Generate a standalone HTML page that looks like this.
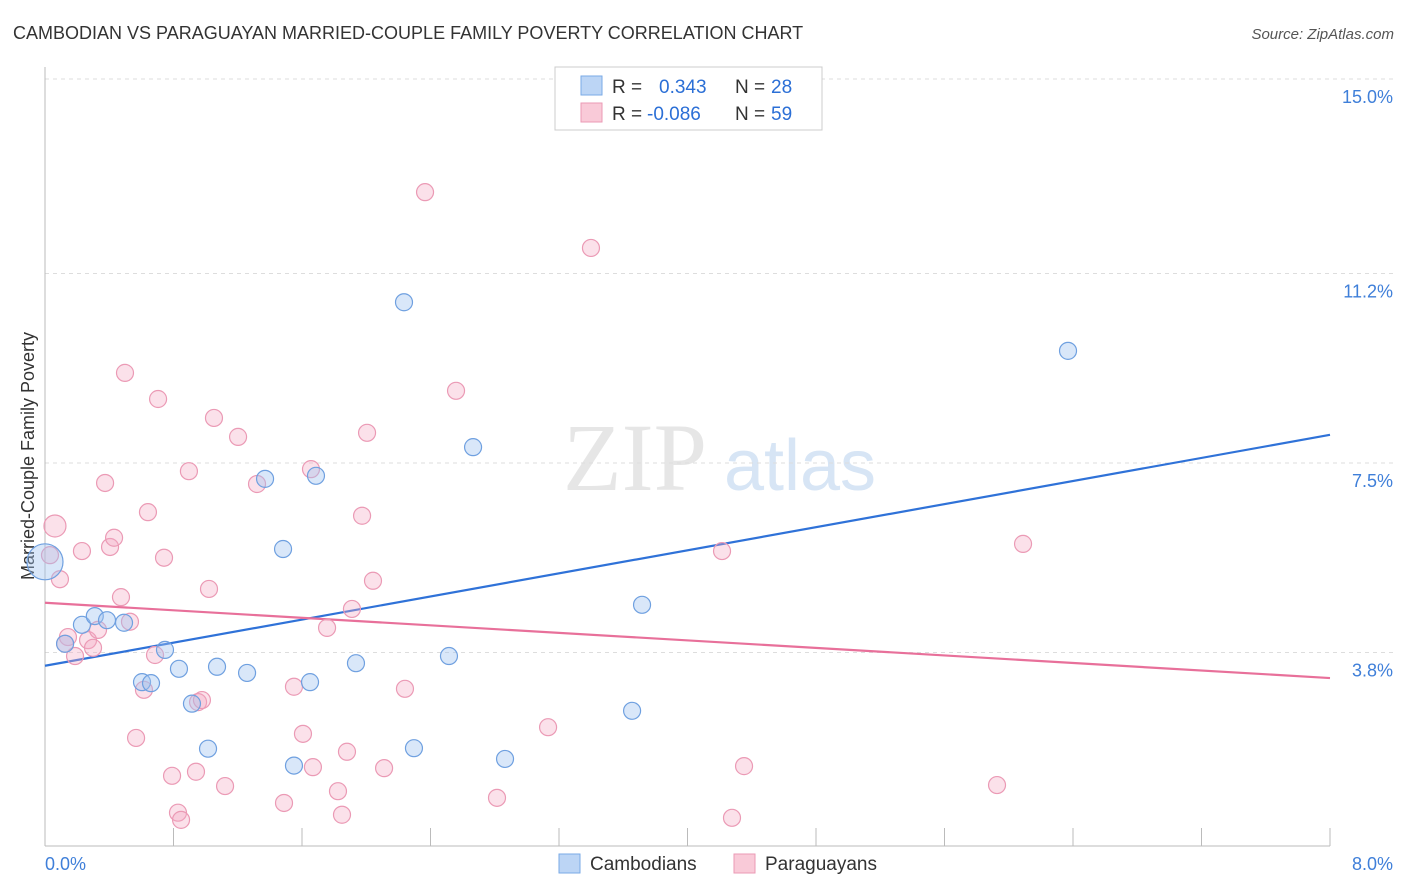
<!DOCTYPE html>
<html><head><meta charset="utf-8"><style>
body{margin:0;background:#fff;font-family:"Liberation Sans",sans-serif;}
svg{display:block}
</style></head><body>
<svg id="chart" width="1406" height="892" viewBox="0 0 1406 892" xmlns="http://www.w3.org/2000/svg">
<text x="13" y="39" font-size="18" fill="#333">CAMBODIAN VS PARAGUAYAN MARRIED-COUPLE FAMILY POVERTY CORRELATION CHART</text>
<text x="1394" y="39" font-size="15" fill="#555" font-style="italic" text-anchor="end">Source: ZipAtlas.com</text>
<g>
<text x="635" y="490" font-size="96" font-family="Liberation Serif,serif" fill="#e6e6e6" text-anchor="middle">ZIP</text>
<text x="800" y="490" font-size="72" fill="#d7e5f5" text-anchor="middle">atlas</text>
</g>
<g id="grid"></g><g id="axes"></g>
<text transform="translate(34,456) rotate(-90)" font-size="18" fill="#333" text-anchor="middle">Married-Couple Family Poverty</text>
<g id="trends"></g><g id="points"></g>
<g>
<rect x="555" y="67" width="267" height="63" fill="#fff" stroke="#ccc"/>
<rect x="581" y="76" width="21" height="19" fill="#bcd5f5" stroke="#7aaae6"/>
<rect x="581" y="103" width="21" height="19" fill="#f9cad8" stroke="#eb9ab5"/>
<text x="612" y="93" font-size="19" fill="#333">R =</text><text x="659" y="93" font-size="19" fill="#2b6fd6">0.343</text>
<text x="735" y="93" font-size="19" fill="#333">N =</text><text x="771" y="93" font-size="19" fill="#2b6fd6">28</text>
<text x="612" y="120" font-size="19" fill="#333">R =</text><text x="647" y="120" font-size="19" fill="#2b6fd6">-0.086</text>
<text x="735" y="120" font-size="19" fill="#333">N =</text><text x="771" y="120" font-size="19" fill="#2b6fd6">59</text>
</g>
<g>
<rect x="559" y="854" width="21" height="19" fill="#bcd5f5" stroke="#7aaae6"/>
<text x="590" y="870" font-size="19" fill="#333">Cambodians</text>
<rect x="734" y="854" width="21" height="19" fill="#f9cad8" stroke="#eb9ab5"/>
<text x="765" y="870" font-size="19" fill="#333">Paraguayans</text>
</g>
</svg>
<script>
const yTicks=[3.8,7.5,11.2,15.0];
const yTickLabels=["3.8%","7.5%","11.2%","15.0%"];
const xTickLabels=["0.0%","8.0%"];
const blueX=[0.00,0.125,0.23,0.31,0.386,0.492,0.604,0.66,0.747,0.834,0.915,1.015,1.071,1.258,1.37,1.482,1.55,1.65,1.687,1.936,2.235,2.297,2.515,2.665,2.864,3.655,3.717,6.369];
const blueY=[5.57,3.97,4.34,4.51,4.43,4.38,3.22,3.20,3.85,3.48,2.80,1.92,3.52,3.40,7.19,5.82,1.59,3.22,7.25,3.59,10.64,1.93,3.73,7.81,1.72,2.66,4.73,9.69];
const pinkX=[0.062,0.031,0.093,0.143,0.125,0.187,0.23,0.268,0.299,0.33,0.374,0.405,0.43,0.473,0.498,0.529,0.567,0.616,0.641,0.685,0.704,0.741,0.791,0.828,0.847,0.896,0.94,0.953,0.977,1.021,1.052,1.121,1.202,1.32,1.488,1.55,1.606,1.656,1.668,1.756,1.824,1.849,1.88,1.911,1.974,2.005,2.042,2.111,2.241,2.366,2.559,2.814,3.132,3.399,4.215,4.277,4.352,5.927,6.089];
const pinkY=[6.27,5.70,5.23,4.10,3.97,3.73,5.78,4.04,3.89,4.24,7.11,5.86,6.04,4.88,9.26,4.40,2.13,3.07,6.54,3.75,8.75,5.65,1.39,0.67,0.53,7.34,1.47,2.83,2.87,5.04,8.38,1.19,8.01,7.09,0.86,3.13,2.21,7.38,1.56,4.28,1.09,0.63,1.86,4.65,6.47,8.09,5.20,1.54,3.09,12.79,8.91,0.96,2.34,11.70,5.78,0.57,1.58,1.21,5.92];
const blueTrend=[3.54,8.05];
const pinkTrend=[4.77,3.30];
const NS="http://www.w3.org/2000/svg";
const X=v=>45+v*1285/8, Y=v=>79+(15-v)*51.2;
function mk(t,a,p){const e=document.createElementNS(NS,t);for(const k in a)e.setAttribute(k,a[k]);p.appendChild(e);return e;}
const grid=document.getElementById('grid'),axes=document.getElementById('axes');
yTicks.forEach((t,i)=>{
 const l=mk('line',{x1:45,x2:1394,y1:Y(t),y2:Y(t),stroke:'#ddd','stroke-dasharray':'4,4'},grid);
 
 
 const tx=mk('text',{x:1393,y:Y(t)+24,'font-size':18,fill:'#3f7fd9','text-anchor':'end'},axes);tx.textContent=yTickLabels[i];
 
 
});
const ax=mk('line',{x1:45,x2:45,y1:67,y2:846,stroke:'#bbb'},axes);


const bx=mk('line',{x1:45,x2:1330,y1:846,y2:846,stroke:'#bbb'},axes);


for(let i=0;i<=10;i++){const t=mk('line',{x1:X(i*0.8),x2:X(i*0.8),y1:828,y2:846,stroke:'#bbb'},axes);
 
 }
[[0,45,'start'],[8,1393,'end']].forEach((d,i)=>{const t=mk('text',{x:d[1],y:870,'font-size':18,fill:'#3f7fd9','text-anchor':d[2]},axes);t.textContent=xTickLabels[i];
 
 });
const pts=document.getElementById('points');
function dots(xs,ys,fill,stroke,name){xs.forEach((x,i)=>{const r=(i===0&&name==='cambodian-point')?18:(i===0?11:8.5);
 const c=mk('circle',{cx:X(x),cy:Y(ys[i]),r:r,fill:fill,stroke:stroke,'stroke-width':1.2},pts);
 
 });}
dots(pinkX,pinkY,'rgba(244,170,195,0.35)','#eb9ab5','paraguayan-point');
dots(blueX,blueY,'rgba(160,196,240,0.4)','#6fa0e0','cambodian-point');
const tr=document.getElementById('trends');
const bl=mk('line',{x1:X(0),y1:Y(blueTrend[0]),x2:X(8),y2:Y(blueTrend[1]),stroke:'#2f72d8','stroke-width':2.2},tr);


const pl=mk('line',{x1:X(0),y1:Y(pinkTrend[0]),x2:X(8),y2:Y(pinkTrend[1]),stroke:'#e8709a','stroke-width':2.2},tr);


</script>
</body></html>
